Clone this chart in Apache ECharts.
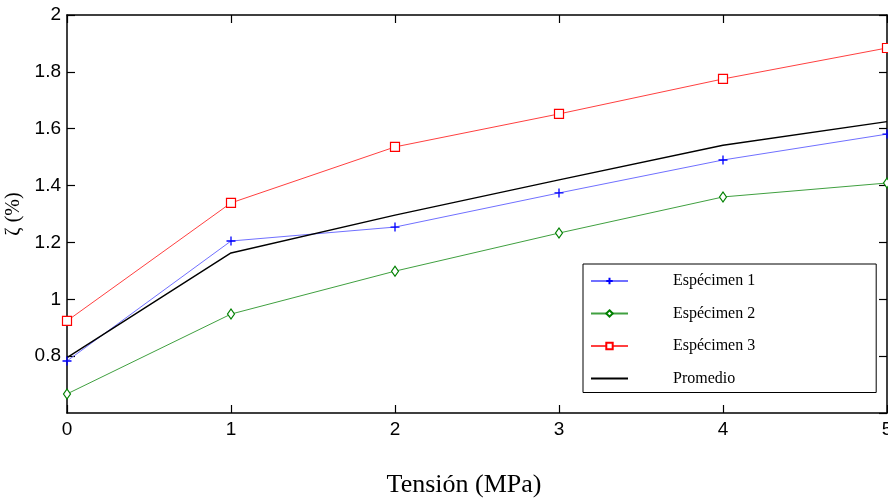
<!DOCTYPE html>
<html>
<head>
<meta charset="utf-8">
<script src="https://cdn.jsdelivr.net/npm/echarts@6/dist/echarts.min.js"></script>
<style>html,body{margin:0;padding:0;background:#fff;}#c{width:888px;height:498px;}</style>
</head>
<body>
<div id="c"></div>
<script>
const tension = [0, 1, 2, 3, 4, 5];
const especimen1 = [0.783, 1.205, 1.254, 1.374, 1.490, 1.581];
const especimen2 = [0.667, 0.948, 1.099, 1.233, 1.360, 1.409];
const especimen3 = [0.924, 1.339, 1.536, 1.652, 1.775, 1.884];
const promedio = [0.795, 1.163, 1.296, 1.420, 1.542, 1.625];
const seriesNames = ['Espécimen 1', 'Espécimen 2', 'Espécimen 3', 'Promedio'];
const xTitle = 'Tensión (MPa)';
const yTitle = 'ζ (%)';

const pairs = arr => tension.map((t, i) => [t, arr[i]]);
const chart = echarts.init(document.getElementById('c'));
const tickFont = () => ({fontFamily: 'Liberation Sans, Arial, sans-serif', fontSize: 19, color: '#000'});
const axisLine = () => ({show: true, onZero: false, lineStyle: {color: '#000', width: 1.5}});
const axisTick = () => ({show: true, inside: true, length: 8, lineStyle: {color: '#000', width: 1.2}});

chart.setOption({
  animation: false,
  backgroundColor: '#fff',
  grid: {left: 67, right: 1, top: 15, bottom: 85, containLabel: false, outerBoundsMode: 'none'},
  legend: {
    orient: 'vertical', left: 583, top: 264,
    data: seriesNames.slice(0, 3).map(n => ({name: n})).concat([{name: seriesNames[3], itemStyle: {opacity: 0}}]),
    itemWidth: 37, itemHeight: 8, itemGap: 16.5,
    padding: [9, 121, 6, 7],
    borderColor: '#000', borderWidth: 1, backgroundColor: '#fff',
    textStyle: {fontFamily: 'Liberation Serif, Times New Roman, serif', fontSize: 16, color: '#000', padding: [0, 0, 0, 40]}
  },
  xAxis: [{
    type: 'value', min: 0, max: 5, interval: 1, position: 'bottom',
    name: xTitle, nameLocation: 'middle', nameGap: 59,
    nameTextStyle: {fontFamily: 'Liberation Serif, Times New Roman, serif', fontSize: 26, color: '#000', padding: [0, 26, 0, 0]},
    axisLine: axisLine(), axisTick: axisTick(),
    axisLabel: Object.assign({margin: 7}, tickFont()),
    splitLine: {show: false}
  }, {
    type: 'value', min: 0, max: 5, interval: 1, position: 'top',
    axisLine: axisLine(), axisTick: axisTick(), axisLabel: {show: false}, splitLine: {show: false}
  }],
  yAxis: [{
    type: 'value', min: 0.6, max: 2, interval: 0.2, position: 'left',
    name: yTitle, nameLocation: 'middle', nameGap: 37, nameRotate: 90,
    nameTextStyle: {fontFamily: 'Liberation Serif, Times New Roman, serif', fontSize: 20, color: '#000'},
    axisLine: axisLine(), axisTick: axisTick(),
    axisLabel: Object.assign({margin: 6, showMinLabel: false, formatter: v => String(Math.round(v * 10) / 10)}, tickFont()),
    splitLine: {show: false}
  }, {
    type: 'value', min: 0.6, max: 2, interval: 0.2, position: 'right',
    axisLine: axisLine(), axisTick: axisTick(), axisLabel: {show: false}, splitLine: {show: false}
  }],
  series: [{
    name: seriesNames[0], type: 'line', data: pairs(especimen1),
    symbol: 'path://M0,5H10M5,0V10', symbolSize: 9, showAllSymbol: true,
    lineStyle: {color: '#7070ff', width: 1},
    itemStyle: {color: 'rgba(0,0,0,0)', borderColor: '#0000ff', borderWidth: 1.3}
  }, {
    name: seriesNames[1], type: 'line', data: pairs(especimen2),
    symbol: 'diamond', symbolSize: [7, 10],
    lineStyle: {color: '#40a040', width: 1},
    itemStyle: {color: '#fff', borderColor: '#008000', borderWidth: 1.2}
  }, {
    name: seriesNames[2], type: 'line', data: pairs(especimen3),
    symbol: 'rect', symbolSize: 9,
    lineStyle: {color: '#ff4040', width: 1},
    itemStyle: {color: '#fff', borderColor: '#ff0000', borderWidth: 1.2}
  }, {
    name: seriesNames[3], type: 'line', data: pairs(promedio),
    symbol: 'none',
    lineStyle: {color: '#000', width: 1.4},
    itemStyle: {color: '#000'}
  }]
});
</script>
</body>
</html>
